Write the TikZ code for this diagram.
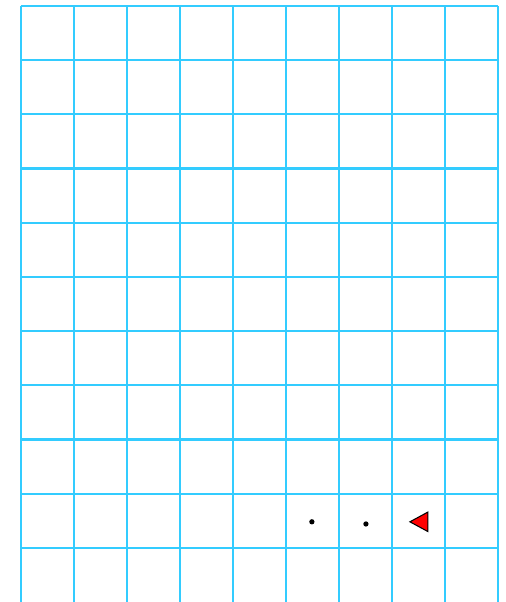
\documentclass[tikz,border=0pt]{standalone}
\usepackage{tikz}
\definecolor{gridblue}{RGB}{51,204,255}
\tikzset{gridline/.style={gridblue,line width=1.2pt}}

\begin{document}
\begin{tikzpicture}[x=1.06cm,y=-1.084cm]
    \useasboundingbox (-0.396,-0.11) rectangle (9.151,11);
    % grid
    \foreach \i in {0,...,9}
      \draw[gridline] (\i,0)--(\i,11);
    \foreach \j in {0,...,10}
      \draw[gridline] (0,\j)--(9,\j);
    % dots
    \fill (5.49,9.52) circle(1.5pt);
    \fill (6.51,9.56) circle(1.5pt);
    % marker
    \draw[fill=red,line width=0.6pt] (7.34,9.52)--(7.68,9.34)--(7.68,9.70)--cycle;
\end{tikzpicture}
\end{document}
